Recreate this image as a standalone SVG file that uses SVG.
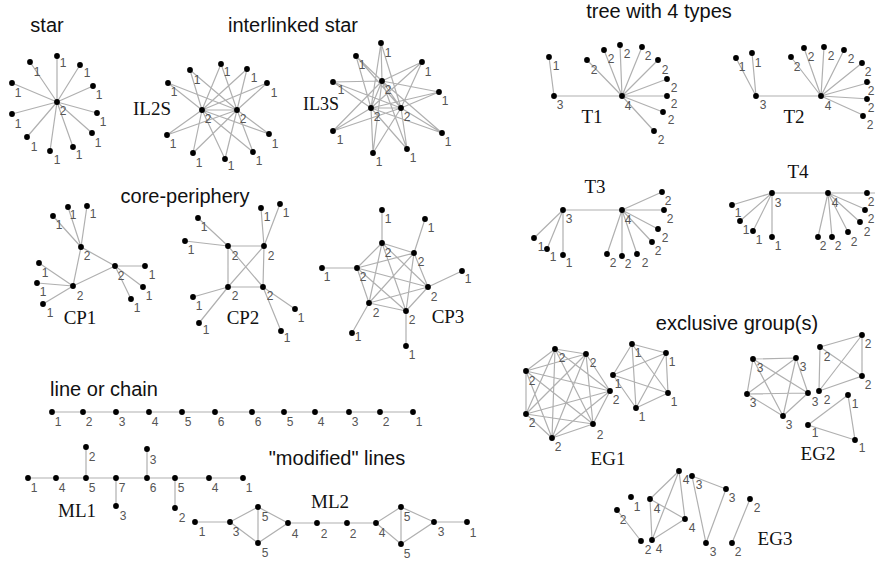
<svg xmlns="http://www.w3.org/2000/svg" width="875" height="562" viewBox="0 0 875 562">
<style>
.bg{fill:#fff}
.e{fill:none;stroke:#b0b0b0;stroke-width:1.2}
.n circle{fill:#000}
.n text{font-family:"Liberation Sans",Arial,sans-serif;font-size:12px;fill:#555;text-anchor:middle;dominant-baseline:central}
.t{font-family:"Liberation Sans",Arial,sans-serif;font-size:20px;fill:#111;text-anchor:middle}
.g{font-family:"Liberation Serif","Times New Roman",serif;font-size:19px;fill:#111;text-anchor:middle}
</style>
<rect class="bg" width="875" height="562"/>
<g id="titles">
<text class="t" x="47" y="32">star</text>
<text class="t" x="293" y="32">interlinked star</text>
<text class="t" x="659" y="18">tree with 4 types</text>
<text class="t" x="185" y="203">core-periphery</text>
<text class="t" x="104" y="396">line or chain</text>
<text class="t" x="337" y="465">"modified" lines</text>
<text class="t" x="737" y="330">exclusive group(s)</text>
<text class="g" x="152" y="115">IL2S</text>
<text class="g" x="321" y="110" style="font-size:18px">IL3S</text>
<text class="g" x="592" y="123">T1</text>
<text class="g" x="794" y="123">T2</text>
<text class="g" x="595" y="193">T3</text>
<text class="g" x="798" y="178">T4</text>
<text class="g" x="80" y="324">CP1</text>
<text class="g" x="243" y="324">CP2</text>
<text class="g" x="448" y="323">CP3</text>
<text class="g" x="77" y="517">ML1</text>
<text class="g" x="330" y="508">ML2</text>
<text class="g" x="608" y="465">EG1</text>
<text class="g" x="818" y="460">EG2</text>
<text class="g" x="775" y="545">EG3</text>
</g>
<g id="connectors">
<path class="e" d="M57 102L57 56M57 102L30 62M57 102L80 65M57 102L12 83M57 102L93 86M57 102L12 114M57 102L97 113M57 102L27 137M57 102L92 133M57 102L50 151M57 102L73 147"/>
<path class="e" d="M202 110L237 110M168 83L202 110M168 83L237 110M190 70L202 110M190 70L237 110M221 64L202 110M221 64L237 110M247 69L202 110M247 69L237 110M267 83L202 110M267 83L237 110M167 135L202 110M167 135L237 110M193 153L202 110M193 153L237 110M225 159L202 110M225 159L237 110M253 152L202 110M253 152L237 110M269 134L202 110M269 134L237 110"/>
<path class="e" d="M382 81L371 108L401 108Z
M382 81L381 43L371 108M381 43L401 108
M382 81L356 56L371 108M356 56L401 108
M382 81L422 62L371 108M422 62L401 108
M382 81L333 82L371 108M333 82L401 108
M382 81L439 92L371 108M439 92L401 108
M382 81L333 131L371 108M333 131L401 108
M382 81L442 133L371 108M442 133L401 108
M382 81L373 153L371 108M373 153L401 108
M382 81L407 149L371 108M407 149L401 108"/>
<path class="e" d="M549 57L554 96L622 96M622 96L587 60M622 96L604 50M622 96L620 45M622 96L642 47M622 96L658 60M622 96L667 79M622 96L667 96M622 96L663 112M622 96L654 131"/>
<path class="e" d="M736 58L756 96M752 53L756 96M756 96L821 96M821 96L791 57M821 96L804 48M821 96L824 47M821 96L844 50M821 96L862 63M821 96L871 82M821 96L870 99M821 96L865 116"/>
<path class="e" d="M563 210L622 210M563 210L534 238M563 210L547 249M563 210L563 255M622 210L662 192M622 210L664 210M622 210L658 229M622 210L652 242M622 210L637 254M622 210L622 256M622 210L607 254"/>
<path class="e" d="M772 193L875 193M772 193L732 205M772 193L740 221M772 193L753 231M772 193L772 237M828 193L867 210M828 193L860 222M828 193L848 232M828 193L832 237M828 193L818 237"/>
<path class="e" d="M81 247L73 286L115 266ZM81 247L53 216M81 247L68 207M81 247L87 206M73 286L39 263M73 286L37 283M73 286L43 304M115 266L145 266M115 266L143 287M115 266L131 299"/>
<path class="e" d="M228 246L264 246L263 287L228 287ZM228 246L263 287M264 246L228 287M228 246L198 218M228 246L185 241M264 246L261 208M264 246L280 204M228 287L193 297M228 287L199 323M263 287L295 309M263 287L281 331"/>
<path class="e" d="M382 243L414 253M382 243L357 268M382 243L428 287M382 243L369 303M382 243L406 311M414 253L357 268M414 253L428 287M414 253L369 303M414 253L406 311M357 268L428 287M357 268L369 303M357 268L406 311M428 287L369 303M428 287L406 311M369 303L406 311M382 243L382 210M414 253L425 219M357 268L322 268M428 287L462 271M369 303L352 333M406 311L406 346"/>
<path class="e" d="M52 412L413 412"/>
<path class="e" d="M28 478L243 478M86 478L86 447M116 478L116 506M147 478L147 449M175 478L175 508"/>
<path class="e" d="M195 522L230 522L258 507L288 523L258 543L230 522M258 507L258 543M288 523L376 523L401 507L434 522L401 544L376 523M401 507L401 544M434 522L467 522"/>
<path class="e" d="M555 349L586 354M555 349L526 371M555 349L610 391M555 349L526 414M555 349L593 424M555 349L552 438M586 354L526 371M586 354L610 391M586 354L526 414M586 354L593 424M586 354L552 438M526 371L610 391M526 371L526 414M526 371L593 424M526 371L552 438M610 391L526 414M610 391L593 424M610 391L552 438M526 414L593 424M526 414L552 438M593 424L552 438"/>
<path class="e" d="M632 344L666 353M632 344L613 375M632 344L668 393M632 344L636 408M666 353L613 375M666 353L668 393M666 353L636 408M613 375L668 393M613 375L636 408M668 393L636 408"/>
<path class="e" d="M753 359L796 358M753 359L747 394M753 359L808 393M753 359L783 416M796 358L747 394M796 358L808 393M796 358L783 416M747 394L808 393M747 394L783 416M808 393L783 416"/>
<path class="e" d="M820 347L862 335L862 376L819 391ZM820 347L862 376M862 335L819 391M848 395L808 425L855 440Z"/>
<path class="e" d="M679 471L650 499L652 540L685 519ZM679 471L652 540M650 499L685 519M692 476L726 489L706 543ZM617 510L641 541M750 499L732 543"/>
</g>
<g id="star">
<g id="star-c" class="n"><circle cx="57" cy="102" r="2.9"/><text x="63" y="111">2</text></g>
<g id="star-1" class="n"><circle cx="57" cy="56" r="2.9"/><text x="63" y="63">1</text></g>
<g id="star-2" class="n"><circle cx="30" cy="62" r="2.9"/><text x="37" y="72">1</text></g>
<g id="star-3" class="n"><circle cx="80" cy="65" r="2.9"/><text x="87" y="73">1</text></g>
<g id="star-4" class="n"><circle cx="12" cy="83" r="2.9"/><text x="18" y="93">1</text></g>
<g id="star-5" class="n"><circle cx="93" cy="86" r="2.9"/><text x="99" y="95">1</text></g>
<g id="star-6" class="n"><circle cx="12" cy="114" r="2.9"/><text x="18" y="124">1</text></g>
<g id="star-7" class="n"><circle cx="97" cy="113" r="2.9"/><text x="103" y="122">1</text></g>
<g id="star-8" class="n"><circle cx="27" cy="137" r="2.9"/><text x="34" y="147">1</text></g>
<g id="star-9" class="n"><circle cx="92" cy="133" r="2.9"/><text x="98" y="143">1</text></g>
<g id="star-10" class="n"><circle cx="50" cy="151" r="2.9"/><text x="57" y="160">1</text></g>
<g id="star-11" class="n"><circle cx="73" cy="147" r="2.9"/><text x="79" y="155">1</text></g>
</g>
<g id="il2s">
<g id="il2s-h1" class="n"><circle cx="202" cy="110" r="2.9"/><text x="208" y="119">2</text></g>
<g id="il2s-h2" class="n"><circle cx="237" cy="110" r="2.9"/><text x="243" y="119">2</text></g>
<g id="il2s-1" class="n"><circle cx="168" cy="83" r="2.9"/><text x="174" y="92">1</text></g>
<g id="il2s-2" class="n"><circle cx="190" cy="70" r="2.9"/><text x="197" y="80">1</text></g>
<g id="il2s-3" class="n"><circle cx="221" cy="64" r="2.9"/><text x="227" y="72">1</text></g>
<g id="il2s-4" class="n"><circle cx="247" cy="69" r="2.9"/><text x="254" y="78">1</text></g>
<g id="il2s-5" class="n"><circle cx="267" cy="83" r="2.9"/><text x="274" y="93">1</text></g>
<g id="il2s-6" class="n"><circle cx="167" cy="135" r="2.9"/><text x="173" y="144">1</text></g>
<g id="il2s-7" class="n"><circle cx="193" cy="153" r="2.9"/><text x="199" y="163">1</text></g>
<g id="il2s-8" class="n"><circle cx="225" cy="159" r="2.9"/><text x="231" y="166">1</text></g>
<g id="il2s-9" class="n"><circle cx="253" cy="152" r="2.9"/><text x="259" y="161">1</text></g>
<g id="il2s-10" class="n"><circle cx="269" cy="134" r="2.9"/><text x="275" y="144">1</text></g>
</g>
<g id="il3s">
<g id="il3s-h1" class="n"><circle cx="382" cy="81" r="2.9"/><text x="388" y="90">2</text></g>
<g id="il3s-h2" class="n"><circle cx="371" cy="108" r="2.9"/><text x="377" y="117">2</text></g>
<g id="il3s-h3" class="n"><circle cx="401" cy="108" r="2.9"/><text x="407" y="117">2</text></g>
<g id="il3s-1" class="n"><circle cx="381" cy="43" r="2.9"/><text x="388" y="53">1</text></g>
<g id="il3s-2" class="n"><circle cx="356" cy="56" r="2.9"/><text x="362" y="65">1</text></g>
<g id="il3s-3" class="n"><circle cx="422" cy="62" r="2.9"/><text x="428" y="72">1</text></g>
<g id="il3s-4" class="n"><circle cx="333" cy="82" r="2.9"/><text x="341" y="90">1</text></g>
<g id="il3s-5" class="n"><circle cx="439" cy="92" r="2.9"/><text x="445" y="101">1</text></g>
<g id="il3s-6" class="n"><circle cx="333" cy="131" r="2.9"/><text x="340" y="140">1</text></g>
<g id="il3s-7" class="n"><circle cx="442" cy="133" r="2.9"/><text x="448" y="142">1</text></g>
<g id="il3s-8" class="n"><circle cx="373" cy="153" r="2.9"/><text x="379" y="162">1</text></g>
<g id="il3s-9" class="n"><circle cx="407" cy="149" r="2.9"/><text x="413" y="158">1</text></g>
</g>
<g id="t1">
<g id="t1-3" class="n"><circle cx="554" cy="96" r="2.9"/><text x="560" y="105">3</text></g>
<g id="t1-4" class="n"><circle cx="622" cy="96" r="2.9"/><text x="628" y="106">4</text></g>
<g id="t1-l1" class="n"><circle cx="549" cy="57" r="2.9"/><text x="556" y="66">1</text></g>
<g id="t1-a" class="n"><circle cx="587" cy="60" r="2.9"/><text x="594" y="70">2</text></g>
<g id="t1-b" class="n"><circle cx="604" cy="50" r="2.9"/><text x="611" y="59">2</text></g>
<g id="t1-c" class="n"><circle cx="620" cy="45" r="2.9"/><text x="627" y="54">2</text></g>
<g id="t1-d" class="n"><circle cx="642" cy="47" r="2.9"/><text x="648" y="56">2</text></g>
<g id="t1-e" class="n"><circle cx="658" cy="60" r="2.9"/><text x="665" y="70">2</text></g>
<g id="t1-f" class="n"><circle cx="667" cy="79" r="2.9"/><text x="674" y="88">2</text></g>
<g id="t1-g" class="n"><circle cx="667" cy="96" r="2.9"/><text x="674" y="104">2</text></g>
<g id="t1-h" class="n"><circle cx="663" cy="112" r="2.9"/><text x="671" y="120">2</text></g>
<g id="t1-i" class="n"><circle cx="654" cy="131" r="2.9"/><text x="661" y="140">2</text></g>
</g>
<g id="t2">
<g id="t2-3" class="n"><circle cx="756" cy="96" r="2.9"/><text x="763" y="105">3</text></g>
<g id="t2-4" class="n"><circle cx="821" cy="96" r="2.9"/><text x="828" y="106">4</text></g>
<g id="t2-l1" class="n"><circle cx="736" cy="58" r="2.9"/><text x="742" y="67">1</text></g>
<g id="t2-l2" class="n"><circle cx="752" cy="53" r="2.9"/><text x="758" y="63">1</text></g>
<g id="t2-a" class="n"><circle cx="791" cy="57" r="2.9"/><text x="797" y="67">2</text></g>
<g id="t2-b" class="n"><circle cx="804" cy="48" r="2.9"/><text x="811" y="57">2</text></g>
<g id="t2-c" class="n"><circle cx="824" cy="47" r="2.9"/><text x="831" y="56">2</text></g>
<g id="t2-d" class="n"><circle cx="844" cy="50" r="2.9"/><text x="851" y="59">2</text></g>
<g id="t2-e" class="n"><circle cx="862" cy="63" r="2.9"/><text x="868" y="72">2</text></g>
<g id="t2-f" class="n"><circle cx="867" cy="82" r="2.9"/><text x="871" y="91">2</text></g>
<g id="t2-g" class="n"><circle cx="867" cy="99" r="2.9"/><text x="871" y="108">2</text></g>
<g id="t2-h" class="n"><circle cx="863" cy="116" r="2.9"/><text x="870" y="125">2</text></g>
</g>
<g id="t3">
<g id="t3-3" class="n"><circle cx="563" cy="210" r="2.9"/><text x="569" y="219">3</text></g>
<g id="t3-4" class="n"><circle cx="622" cy="210" r="2.9"/><text x="628" y="220">4</text></g>
<g id="t3-l1" class="n"><circle cx="534" cy="238" r="2.9"/><text x="541" y="247">1</text></g>
<g id="t3-l2" class="n"><circle cx="547" cy="249" r="2.9"/><text x="553" y="257">1</text></g>
<g id="t3-l3" class="n"><circle cx="563" cy="255" r="2.9"/><text x="569" y="263">1</text></g>
<g id="t3-a" class="n"><circle cx="662" cy="192" r="2.9"/><text x="668" y="201">2</text></g>
<g id="t3-b" class="n"><circle cx="664" cy="210" r="2.9"/><text x="670" y="219">2</text></g>
<g id="t3-c" class="n"><circle cx="658" cy="229" r="2.9"/><text x="665" y="238">2</text></g>
<g id="t3-d" class="n"><circle cx="652" cy="242" r="2.9"/><text x="658" y="251">2</text></g>
<g id="t3-e" class="n"><circle cx="637" cy="254" r="2.9"/><text x="645" y="263">2</text></g>
<g id="t3-f" class="n"><circle cx="622" cy="256" r="2.9"/><text x="628" y="264">2</text></g>
<g id="t3-g" class="n"><circle cx="607" cy="254" r="2.9"/><text x="613" y="263">2</text></g>
</g>
<g id="t4">
<g id="t4-3" class="n"><circle cx="772" cy="193" r="2.9"/><text x="778" y="203">3</text></g>
<g id="t4-4" class="n"><circle cx="828" cy="193" r="2.9"/><text x="835" y="203">4</text></g>
<g id="t4-l1" class="n"><circle cx="732" cy="205" r="2.9"/><text x="738" y="213">1</text></g>
<g id="t4-l2" class="n"><circle cx="740" cy="221" r="2.9"/><text x="746" y="230">1</text></g>
<g id="t4-l3" class="n"><circle cx="753" cy="231" r="2.9"/><text x="759" y="240">1</text></g>
<g id="t4-l4" class="n"><circle cx="772" cy="237" r="2.9"/><text x="778" y="246">1</text></g>
<g id="t4-a" class="n"><circle cx="867" cy="193" r="2.9"/><text x="871" y="202">2</text></g>
<g id="t4-b" class="n"><circle cx="865" cy="210" r="2.9"/><text x="871" y="219">2</text></g>
<g id="t4-c" class="n"><circle cx="860" cy="222" r="2.9"/><text x="867" y="232">2</text></g>
<g id="t4-d" class="n"><circle cx="848" cy="232" r="2.9"/><text x="854" y="242">2</text></g>
<g id="t4-e" class="n"><circle cx="832" cy="237" r="2.9"/><text x="838" y="246">2</text></g>
<g id="t4-f" class="n"><circle cx="818" cy="237" r="2.9"/><text x="823" y="246">2</text></g>
</g>
<g id="cp1">
<g id="cp1-a" class="n"><circle cx="81" cy="247" r="2.9"/><text x="87" y="256">2</text></g>
<g id="cp1-b" class="n"><circle cx="73" cy="286" r="2.9"/><text x="80" y="296">2</text></g>
<g id="cp1-c" class="n"><circle cx="115" cy="266" r="2.9"/><text x="121" y="276">2</text></g>
<g id="cp1-a1" class="n"><circle cx="53" cy="216" r="2.9"/><text x="59" y="225">1</text></g>
<g id="cp1-a2" class="n"><circle cx="68" cy="207" r="2.9"/><text x="73" y="215">1</text></g>
<g id="cp1-a3" class="n"><circle cx="87" cy="206" r="2.9"/><text x="93" y="214">1</text></g>
<g id="cp1-b1" class="n"><circle cx="39" cy="263" r="2.9"/><text x="45" y="273">1</text></g>
<g id="cp1-b2" class="n"><circle cx="37" cy="283" r="2.9"/><text x="43" y="292">1</text></g>
<g id="cp1-b3" class="n"><circle cx="43" cy="304" r="2.9"/><text x="50" y="313">1</text></g>
<g id="cp1-c1" class="n"><circle cx="145" cy="266" r="2.9"/><text x="152" y="275">1</text></g>
<g id="cp1-c2" class="n"><circle cx="143" cy="287" r="2.9"/><text x="149" y="296">1</text></g>
<g id="cp1-c3" class="n"><circle cx="131" cy="299" r="2.9"/><text x="137" y="308">1</text></g>
</g>
<g id="cp2">
<g id="cp2-tl" class="n"><circle cx="228" cy="246" r="2.9"/><text x="235" y="256">2</text></g>
<g id="cp2-tr" class="n"><circle cx="264" cy="246" r="2.9"/><text x="271" y="256">2</text></g>
<g id="cp2-bl" class="n"><circle cx="228" cy="287" r="2.9"/><text x="235" y="296">2</text></g>
<g id="cp2-br" class="n"><circle cx="263" cy="287" r="2.9"/><text x="270" y="296">2</text></g>
<g id="cp2-1" class="n"><circle cx="198" cy="218" r="2.9"/><text x="204" y="227">1</text></g>
<g id="cp2-2" class="n"><circle cx="185" cy="241" r="2.9"/><text x="191" y="250">1</text></g>
<g id="cp2-3" class="n"><circle cx="261" cy="208" r="2.9"/><text x="267" y="217">1</text></g>
<g id="cp2-4" class="n"><circle cx="280" cy="204" r="2.9"/><text x="286" y="213">1</text></g>
<g id="cp2-5" class="n"><circle cx="193" cy="297" r="2.9"/><text x="199" y="306">1</text></g>
<g id="cp2-6" class="n"><circle cx="199" cy="323" r="2.9"/><text x="206" y="330">1</text></g>
<g id="cp2-7" class="n"><circle cx="295" cy="309" r="2.9"/><text x="301" y="318">1</text></g>
<g id="cp2-8" class="n"><circle cx="281" cy="331" r="2.9"/><text x="287" y="338">1</text></g>
</g>
<g id="cp3">
<g id="cp3-a" class="n"><circle cx="382" cy="243" r="2.9"/><text x="388" y="253">2</text></g>
<g id="cp3-b" class="n"><circle cx="414" cy="253" r="2.9"/><text x="421" y="262">2</text></g>
<g id="cp3-c" class="n"><circle cx="357" cy="268" r="2.9"/><text x="363" y="277">2</text></g>
<g id="cp3-d" class="n"><circle cx="428" cy="287" r="2.9"/><text x="434" y="297">2</text></g>
<g id="cp3-e" class="n"><circle cx="369" cy="303" r="2.9"/><text x="376" y="313">2</text></g>
<g id="cp3-f" class="n"><circle cx="406" cy="311" r="2.9"/><text x="412" y="320">2</text></g>
<g id="cp3-a1" class="n"><circle cx="382" cy="210" r="2.9"/><text x="388" y="219">1</text></g>
<g id="cp3-b1" class="n"><circle cx="425" cy="219" r="2.9"/><text x="431" y="228">1</text></g>
<g id="cp3-c1" class="n"><circle cx="322" cy="268" r="2.9"/><text x="327" y="277">1</text></g>
<g id="cp3-d1" class="n"><circle cx="462" cy="271" r="2.9"/><text x="468" y="279">1</text></g>
<g id="cp3-e1" class="n"><circle cx="352" cy="333" r="2.9"/><text x="358" y="337">1</text></g>
<g id="cp3-f1" class="n"><circle cx="406" cy="346" r="2.9"/><text x="412" y="355">1</text></g>
</g>
<g id="chain">
<g id="ch-1" class="n"><circle cx="52" cy="412" r="2.9"/><text x="58" y="422">1</text></g>
<g id="ch-2" class="n"><circle cx="83" cy="412" r="2.9"/><text x="89" y="422">2</text></g>
<g id="ch-3" class="n"><circle cx="116" cy="412" r="2.9"/><text x="122" y="422">3</text></g>
<g id="ch-4" class="n"><circle cx="149" cy="412" r="2.9"/><text x="155" y="422">4</text></g>
<g id="ch-5" class="n"><circle cx="182" cy="412" r="2.9"/><text x="188" y="422">5</text></g>
<g id="ch-6" class="n"><circle cx="215" cy="412" r="2.9"/><text x="221" y="422">6</text></g>
<g id="ch-7" class="n"><circle cx="252" cy="412" r="2.9"/><text x="258" y="422">6</text></g>
<g id="ch-8" class="n"><circle cx="284" cy="412" r="2.9"/><text x="290" y="422">5</text></g>
<g id="ch-9" class="n"><circle cx="315" cy="412" r="2.9"/><text x="321" y="422">4</text></g>
<g id="ch-10" class="n"><circle cx="349" cy="412" r="2.9"/><text x="355" y="422">3</text></g>
<g id="ch-11" class="n"><circle cx="380" cy="412" r="2.9"/><text x="386" y="422">2</text></g>
<g id="ch-12" class="n"><circle cx="413" cy="412" r="2.9"/><text x="419" y="422">1</text></g>
</g>
<g id="ml1">
<g id="ml1-1" class="n"><circle cx="28" cy="478" r="2.9"/><text x="34" y="488">1</text></g>
<g id="ml1-2" class="n"><circle cx="56" cy="478" r="2.9"/><text x="62" y="488">4</text></g>
<g id="ml1-3" class="n"><circle cx="86" cy="478" r="2.9"/><text x="92" y="488">5</text></g>
<g id="ml1-4" class="n"><circle cx="116" cy="478" r="2.9"/><text x="122" y="488">7</text></g>
<g id="ml1-5" class="n"><circle cx="147" cy="478" r="2.9"/><text x="153" y="488">6</text></g>
<g id="ml1-6" class="n"><circle cx="175" cy="478" r="2.9"/><text x="181" y="488">5</text></g>
<g id="ml1-7" class="n"><circle cx="209" cy="478" r="2.9"/><text x="215" y="488">4</text></g>
<g id="ml1-8" class="n"><circle cx="243" cy="478" r="2.9"/><text x="249" y="488">1</text></g>
<g id="ml1-b1" class="n"><circle cx="86" cy="447" r="2.9"/><text x="92" y="457">2</text></g>
<g id="ml1-b2" class="n"><circle cx="116" cy="506" r="2.9"/><text x="123" y="516">3</text></g>
<g id="ml1-b3" class="n"><circle cx="147" cy="449" r="2.9"/><text x="153" y="460">3</text></g>
<g id="ml1-b4" class="n"><circle cx="175" cy="508" r="2.9"/><text x="182" y="518">2</text></g>
</g>
<g id="ml2">
<g id="ml2-1" class="n"><circle cx="195" cy="522" r="2.9"/><text x="202" y="532">1</text></g>
<g id="ml2-2" class="n"><circle cx="230" cy="522" r="2.9"/><text x="236" y="532">3</text></g>
<g id="ml2-3" class="n"><circle cx="258" cy="507" r="2.9"/><text x="265" y="517">5</text></g>
<g id="ml2-4" class="n"><circle cx="258" cy="543" r="2.9"/><text x="265" y="553">5</text></g>
<g id="ml2-5" class="n"><circle cx="288" cy="523" r="2.9"/><text x="295" y="534">4</text></g>
<g id="ml2-6" class="n"><circle cx="317" cy="523" r="2.9"/><text x="324" y="534">2</text></g>
<g id="ml2-7" class="n"><circle cx="347" cy="523" r="2.9"/><text x="353" y="534">2</text></g>
<g id="ml2-8" class="n"><circle cx="376" cy="523" r="2.9"/><text x="382" y="533">4</text></g>
<g id="ml2-9" class="n"><circle cx="401" cy="507" r="2.9"/><text x="407" y="517">5</text></g>
<g id="ml2-10" class="n"><circle cx="401" cy="544" r="2.9"/><text x="407" y="554">5</text></g>
<g id="ml2-11" class="n"><circle cx="434" cy="522" r="2.9"/><text x="441" y="532">3</text></g>
<g id="ml2-12" class="n"><circle cx="467" cy="522" r="2.9"/><text x="473" y="533">1</text></g>
</g>
<g id="eg1">
<g id="eg1-p1" class="n"><circle cx="555" cy="349" r="2.9"/><text x="562" y="358">2</text></g>
<g id="eg1-p2" class="n"><circle cx="586" cy="354" r="2.9"/><text x="593" y="363">2</text></g>
<g id="eg1-p3" class="n"><circle cx="526" cy="371" r="2.9"/><text x="532" y="381">2</text></g>
<g id="eg1-p4" class="n"><circle cx="610" cy="391" r="2.9"/><text x="616" y="400">2</text></g>
<g id="eg1-p5" class="n"><circle cx="526" cy="414" r="2.9"/><text x="532" y="423">2</text></g>
<g id="eg1-p6" class="n"><circle cx="593" cy="424" r="2.9"/><text x="600" y="435">2</text></g>
<g id="eg1-p7" class="n"><circle cx="552" cy="438" r="2.9"/><text x="558" y="447">2</text></g>
<g id="eg1-q1" class="n"><circle cx="632" cy="344" r="2.9"/><text x="638" y="353">1</text></g>
<g id="eg1-q2" class="n"><circle cx="666" cy="353" r="2.9"/><text x="672" y="362">1</text></g>
<g id="eg1-q3" class="n"><circle cx="613" cy="375" r="2.9"/><text x="618" y="384">1</text></g>
<g id="eg1-q4" class="n"><circle cx="668" cy="393" r="2.9"/><text x="674" y="402">1</text></g>
<g id="eg1-q5" class="n"><circle cx="636" cy="408" r="2.9"/><text x="642" y="417">1</text></g>
</g>
<g id="eg2">
<g id="eg2-r1" class="n"><circle cx="753" cy="359" r="2.9"/><text x="760" y="368">3</text></g>
<g id="eg2-r2" class="n"><circle cx="796" cy="358" r="2.9"/><text x="803" y="367">3</text></g>
<g id="eg2-r3" class="n"><circle cx="747" cy="394" r="2.9"/><text x="753" y="403">3</text></g>
<g id="eg2-r4" class="n"><circle cx="808" cy="393" r="2.9"/><text x="815" y="402">3</text></g>
<g id="eg2-r5" class="n"><circle cx="783" cy="416" r="2.9"/><text x="789" y="425">3</text></g>
<g id="eg2-s1" class="n"><circle cx="820" cy="347" r="2.9"/><text x="827" y="357">2</text></g>
<g id="eg2-s2" class="n"><circle cx="862" cy="335" r="2.9"/><text x="868" y="344">2</text></g>
<g id="eg2-s3" class="n"><circle cx="862" cy="376" r="2.9"/><text x="868" y="385">2</text></g>
<g id="eg2-s4" class="n"><circle cx="819" cy="391" r="2.9"/><text x="827" y="400">2</text></g>
<g id="eg2-t1" class="n"><circle cx="848" cy="395" r="2.9"/><text x="855" y="404">1</text></g>
<g id="eg2-t2" class="n"><circle cx="808" cy="425" r="2.9"/><text x="815" y="433">1</text></g>
<g id="eg2-t3" class="n"><circle cx="855" cy="440" r="2.9"/><text x="862" y="448">1</text></g>
</g>
<g id="eg3">
<g id="eg3-a" class="n"><circle cx="679" cy="471" r="2.9"/><text x="686" y="480">4</text></g>
<g id="eg3-b" class="n"><circle cx="692" cy="476" r="2.9"/><text x="699" y="485">3</text></g>
<g id="eg3-c" class="n"><circle cx="631" cy="497" r="2.9"/><text x="637" y="507">1</text></g>
<g id="eg3-d" class="n"><circle cx="650" cy="499" r="2.9"/><text x="657" y="509">4</text></g>
<g id="eg3-e" class="n"><circle cx="617" cy="510" r="2.9"/><text x="623" y="520">2</text></g>
<g id="eg3-f" class="n"><circle cx="726" cy="489" r="2.9"/><text x="732" y="498">3</text></g>
<g id="eg3-g" class="n"><circle cx="750" cy="499" r="2.9"/><text x="757" y="508">2</text></g>
<g id="eg3-h" class="n"><circle cx="685" cy="519" r="2.9"/><text x="692" y="528">4</text></g>
<g id="eg3-i" class="n"><circle cx="641" cy="541" r="2.9"/><text x="648" y="550">2</text></g>
<g id="eg3-j" class="n"><circle cx="652" cy="540" r="2.9"/><text x="659" y="549">4</text></g>
<g id="eg3-k" class="n"><circle cx="706" cy="543" r="2.9"/><text x="713" y="552">3</text></g>
<g id="eg3-l" class="n"><circle cx="732" cy="543" r="2.9"/><text x="738" y="552">2</text></g>
</g>
</svg>
